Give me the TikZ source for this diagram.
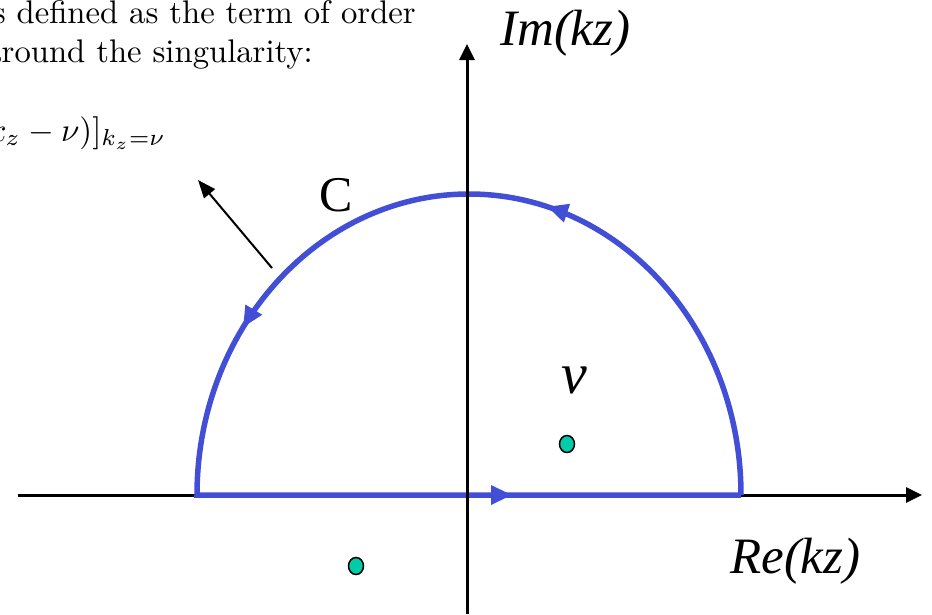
\documentclass[tikz,border=0pt]{standalone}
\usepackage{graphicx}
\usepackage{fontspec}
\newfontfamily\timesfont{Liberation Serif}
\usetikzlibrary{arrows.meta,decorations.markings}
\definecolor{contour}{RGB}{66,78,214}
\definecolor{pole}{RGB}{0,204,170}
\begin{document}
\begin{tikzpicture}[x=1pt,y=-1pt,
  axisline/.style={line width=3pt,-{Triangle[length=16pt,width=15pt]}},
  contourline/.style={line width=5.5pt,draw=contour,line join=miter},
  poledot/.style={fill=pole,draw=black,line width=1.5pt},
  bodytext/.style={anchor=base east,inner sep=0pt,font=\fontsize{10}{12}\selectfont},
  label/.style={anchor=base west,inner sep=0pt,font=\timesfont\fontsize{51}{60}\selectfont\itshape},
  pointer/.style={line width=2pt,-{Triangle[length=18pt,width=14pt]}}]
\useasboundingbox (0,0) rectangle (932,614);
\clip (0,0) rectangle (932,614);
% text at top left
\node[bodytext] (l1) at (416,23) {\scalebox{3.27}{is defined as the term of order}};
\node[bodytext] (l2) at (313,62) {\scalebox{3.27}{around the singularity:}};
\node[bodytext] (l3) at (166,141) {\scalebox{3.3}{$\mathrm{Res}=[f(k_z)(k_z-\nu)]_{k_z=\nu}$}};
% x axis
\coordinate (xs) at (18,495);
\coordinate (xe) at (922,495);
\draw[axisline] (xs) -- (xe);
% contour
\coordinate (cr) at (741,495);
\coordinate (cl) at (197,495);
\draw[contourline,postaction={decorate},
  decoration={markings,
    mark=at position 371pt with {\arrow[contour]{Triangle[length=21pt,width=18pt]}},
    mark=at position 725pt with {\arrow[contour]{Triangle[length=21pt,width=18pt]}},
    mark=at position 1216pt with {\arrow[contour]{Triangle[length=21pt,width=18pt]}}}]
  (cr) arc[start angle=0,end angle=-180,x radius=272,y radius=301] -- (cr);
% y axis
\coordinate (ys) at (467,614);
\coordinate (ye) at (467,44);
\draw[axisline] (ys) -- (ye);
% pointer arrow
\coordinate (ps) at (272,268);
\coordinate (pe) at (198,180);
\draw[pointer] (ps) -- (pe);
% poles
\coordinate (p1) at (567,444);
\coordinate (p2) at (356,566);
\draw[poledot] (p1) ellipse[x radius=7.5,y radius=8.5];
\draw[poledot] (p2) ellipse[x radius=7.5,y radius=8.5];
% labels
\node[label] (im) at (500,45) {Im(kz)};
\node[label] (re) at (730,573) {Re(kz)};
\node[anchor=base west,inner sep=0pt,font=\timesfont\fontsize{50}{60}\selectfont] (c) at (319,211) {C};
\node[anchor=base west,inner sep=0pt,font=\timesfont\fontsize{58}{60}\selectfont\itshape] (nu) at (561,393) {ν};
\end{tikzpicture}
\end{document}
